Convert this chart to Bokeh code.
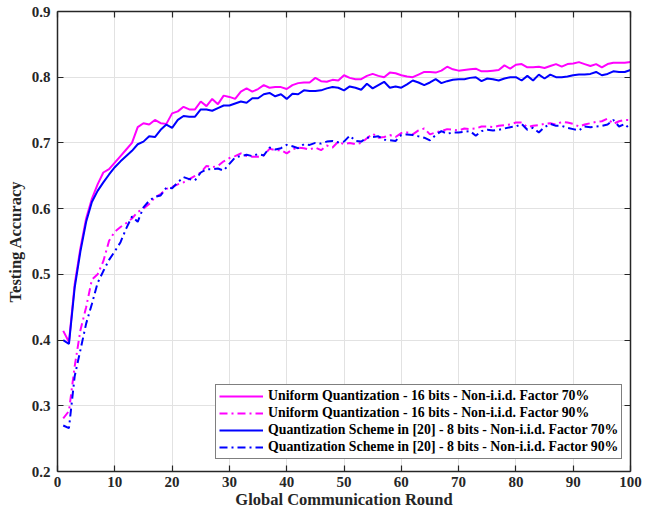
from bokeh.plotting import figure
from bokeh.models import (LinearAxis, Legend, LegendItem, FixedTicker,
                          CustomJSTickFormatter, Range1d)
from bokeh.embed import file_html
from bokeh.resources import INLINE

# Communication rounds
rounds = list(range(1, 101))

# Testing accuracy per round
uniform_16b_niid70 = [
    0.414, 0.397, 0.485, 0.540, 0.585, 0.615, 0.637, 0.655, 0.660, 0.670,
    0.680, 0.690, 0.700, 0.724, 0.730, 0.728, 0.735, 0.730, 0.729, 0.745,
    0.748, 0.755, 0.751, 0.751, 0.763, 0.756, 0.767, 0.759, 0.772, 0.770,
    0.767, 0.778, 0.783, 0.778, 0.782, 0.788, 0.784, 0.785, 0.785, 0.782,
    0.788, 0.791, 0.792, 0.792, 0.799, 0.794, 0.793, 0.796, 0.795, 0.803,
    0.799, 0.797, 0.797, 0.802, 0.805, 0.802, 0.800, 0.807, 0.806, 0.803,
    0.801, 0.800, 0.804, 0.808, 0.808, 0.807, 0.810, 0.816, 0.812, 0.810,
    0.811, 0.812, 0.813, 0.809, 0.809, 0.810, 0.811, 0.818, 0.813, 0.819,
    0.820, 0.815, 0.815, 0.816, 0.814, 0.817, 0.820, 0.816, 0.820, 0.821,
    0.823, 0.820, 0.817, 0.820, 0.815, 0.820, 0.822, 0.822, 0.822, 0.823,
]

uniform_16b_niid90 = [
    0.281, 0.292, 0.360, 0.415, 0.450, 0.492, 0.500, 0.520, 0.551, 0.565,
    0.572, 0.578, 0.585, 0.595, 0.600, 0.607, 0.617, 0.622, 0.630, 0.633,
    0.637, 0.640, 0.645, 0.650, 0.655, 0.665, 0.663, 0.665, 0.672, 0.677,
    0.680, 0.684, 0.680, 0.679, 0.679, 0.681, 0.691, 0.689, 0.689, 0.684,
    0.690, 0.693, 0.692, 0.690, 0.693, 0.689, 0.696, 0.693, 0.702, 0.698,
    0.700, 0.698, 0.700, 0.707, 0.714, 0.708, 0.709, 0.712, 0.709, 0.715,
    0.716, 0.713, 0.719, 0.722, 0.713, 0.716, 0.718, 0.721, 0.720, 0.719,
    0.722, 0.721, 0.722, 0.725, 0.725, 0.724, 0.726, 0.727, 0.728, 0.731,
    0.731, 0.724, 0.726, 0.727, 0.729, 0.730, 0.728, 0.732, 0.731, 0.729,
    0.725, 0.728, 0.730, 0.732, 0.733, 0.737, 0.729, 0.733, 0.735, 0.735,
]

scheme20_8b_niid70 = [
    0.400, 0.394, 0.480, 0.535, 0.580, 0.610, 0.627, 0.640, 0.652, 0.663,
    0.672, 0.680, 0.688, 0.698, 0.702, 0.710, 0.709, 0.720, 0.728, 0.723,
    0.735, 0.741, 0.740, 0.740, 0.751, 0.751, 0.749, 0.753, 0.757, 0.757,
    0.760, 0.763, 0.761, 0.768, 0.768, 0.774, 0.776, 0.771, 0.774, 0.767,
    0.775, 0.774, 0.780, 0.779, 0.779, 0.780, 0.783, 0.785, 0.784, 0.780,
    0.786, 0.784, 0.781, 0.790, 0.783, 0.788, 0.793, 0.784, 0.786, 0.784,
    0.789, 0.795, 0.792, 0.788, 0.792, 0.797, 0.791, 0.794, 0.796, 0.797,
    0.797, 0.799, 0.800, 0.794, 0.798, 0.797, 0.795, 0.798, 0.800, 0.800,
    0.795, 0.802, 0.795, 0.804, 0.798, 0.804, 0.800, 0.800, 0.801, 0.803,
    0.804, 0.804, 0.805, 0.808, 0.803, 0.805, 0.809, 0.808, 0.808, 0.811,
]

scheme20_8b_niid90 = [
    0.270, 0.266, 0.345, 0.385, 0.425, 0.455, 0.487, 0.505, 0.522, 0.535,
    0.549, 0.570, 0.588, 0.580, 0.602, 0.612, 0.618, 0.620, 0.632, 0.631,
    0.640, 0.648, 0.645, 0.643, 0.655, 0.660, 0.660, 0.661, 0.658, 0.668,
    0.678, 0.680, 0.682, 0.680, 0.683, 0.681, 0.693, 0.690, 0.692, 0.697,
    0.695, 0.692, 0.698, 0.697, 0.700, 0.699, 0.702, 0.703, 0.701, 0.702,
    0.711, 0.703, 0.702, 0.708, 0.709, 0.710, 0.705, 0.704, 0.703, 0.712,
    0.713, 0.712, 0.710, 0.708, 0.704, 0.712, 0.718, 0.714, 0.716, 0.716,
    0.717, 0.718, 0.711, 0.718, 0.720, 0.719, 0.720, 0.722, 0.724, 0.725,
    0.729, 0.720, 0.723, 0.716, 0.724, 0.729, 0.726, 0.726, 0.723, 0.721,
    0.719, 0.725, 0.724, 0.725, 0.726, 0.728, 0.735, 0.725, 0.729, 0.720,
]

series_labels = [
    "Uniform Quantization - 16 bits - Non-i.i.d. Factor 70%",
    "Uniform Quantization - 16 bits - Non-i.i.d. Factor 90%",
    "Quantization Scheme in [20] - 8 bits - Non-i.i.d. Factor 70%",
    "Quantization Scheme in [20] - 8 bits - Non-i.i.d. Factor 90%",
]

x_ticks = [0, 10, 20, 30, 40, 50, 60, 70, 80, 90, 100]
y_ticks = [0.2, 0.3, 0.4, 0.5, 0.6, 0.7, 0.8, 0.9]

FONT = "Liberation Serif"
INK = "#262626"

p = figure(width=654, height=514, output_backend="svg", toolbar_location=None,
           x_range=Range1d(0, 100), y_range=Range1d(0.2, 0.9),
           min_border_left=57, min_border_right=24,
           min_border_top=11, min_border_bottom=43,
           x_axis_label="Global Communication Round",
           y_axis_label="Testing Accuracy")
p.outline_line_color = None
p.background_fill_color = "white"
p.border_fill_color = "white"

p.xaxis.ticker = FixedTicker(ticks=x_ticks)
p.yaxis.ticker = FixedTicker(ticks=y_ticks)
p.yaxis.formatter = CustomJSTickFormatter(code="return tick.toFixed(1);")

for ax in (p.xaxis[0], p.yaxis[0]):
    ax.axis_line_color = INK
    ax.axis_line_width = 1.5
    ax.major_tick_line_color = INK
    ax.major_tick_line_width = 1.2
    ax.major_tick_in = 6
    ax.major_tick_out = 0
    ax.minor_tick_line_color = None
    ax.major_label_text_font = FONT
    ax.major_label_text_font_style = "bold"
    ax.major_label_text_font_size = "15px"
    ax.major_label_text_color = INK
    ax.axis_label_text_font = FONT
    ax.axis_label_text_font_style = "bold"
    ax.axis_label_text_font_size = "16.5px"
    ax.axis_label_text_color = INK

p.xaxis.major_label_standoff = 5
p.xaxis.axis_label_standoff = 0
p.yaxis.major_label_standoff = 7
p.yaxis.axis_label_standoff = 4

# Box: plain axes on the top and right edges with inward ticks
blank = CustomJSTickFormatter(code="return '';")
top = LinearAxis(ticker=FixedTicker(ticks=x_ticks), formatter=blank)
right = LinearAxis(ticker=FixedTicker(ticks=y_ticks), formatter=blank)
for ax in (top, right):
    ax.axis_line_color = INK
    ax.axis_line_width = 1.5
    ax.major_tick_line_color = INK
    ax.major_tick_line_width = 1.2
    ax.major_tick_in = 6
    ax.major_tick_out = 0
    ax.minor_tick_line_color = None
    ax.major_label_text_font_size = "0px"
    ax.major_label_standoff = 0
p.add_layout(top, "above")
p.add_layout(right, "right")

p.xgrid.grid_line_color = "#e2e2e2"
p.ygrid.grid_line_color = "#e2e2e2"
p.xgrid.grid_line_width = 1
p.ygrid.grid_line_width = 1

MAGENTA = "#ff00ff"
BLUE = "#0000ff"
DASHDOT = "8 4 2 4"

r1 = p.line(rounds, uniform_16b_niid70, line_color=MAGENTA, line_width=2)
r2 = p.line(rounds, uniform_16b_niid90, line_color=MAGENTA, line_width=2,
            line_dash=DASHDOT)
r3 = p.line(rounds, scheme20_8b_niid70, line_color=BLUE, line_width=2)
r4 = p.line(rounds, scheme20_8b_niid90, line_color=BLUE, line_width=2,
            line_dash=DASHDOT)

legend = Legend(items=[LegendItem(label=lab, renderers=[r])
                       for lab, r in zip(series_labels, [r1, r2, r3, r4])],
                location=(158, 12))
legend.label_text_font = FONT
legend.label_text_font_style = "bold"
legend.label_text_font_size = "13.8px"
legend.label_text_color = "black"
legend.label_height = 16
legend.glyph_height = 16
legend.glyph_width = 44
legend.label_standoff = 5
legend.spacing = 1
legend.padding = 3
legend.margin = 0
legend.border_line_color = "black"
legend.border_line_width = 1
legend.background_fill_color = "white"
legend.background_fill_alpha = 1
p.add_layout(legend, "center")

open("out.html", "w").write(file_html(p, INLINE))
